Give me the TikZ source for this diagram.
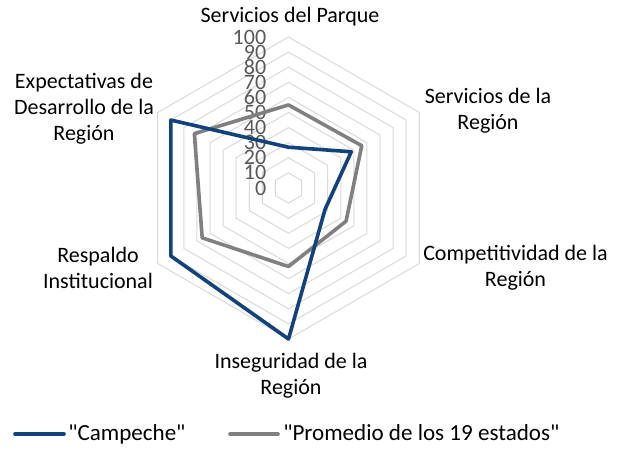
\documentclass[tikz,border=0pt]{standalone}
\usepackage{fontspec}
\setmainfont{Carlito}
\definecolor{campeche}{RGB}{17,66,125}
\definecolor{promedio}{RGB}{128,128,128}
\definecolor{gridgray}{RGB}{217,217,217}
\definecolor{ticktext}{RGB}{89,89,89}
\begin{document}
\begin{tikzpicture}[x=0.75pt,y=0.75pt]
  \tikzstyle{axislabel}=[align=center,inner sep=0pt,font=\fontsize{16.5}{19.5}\selectfont]
  \tikzstyle{legendtext}=[anchor=base west,inner sep=0pt,font=\fontsize{17.3}{20}\selectfont]
  \tikzstyle{tick}=[anchor=east,inner sep=0pt,text=ticktext,font=\fontsize{16.5}{19.5}\selectfont]
  \tikzstyle{grid}=[draw=gridgray,line width=0.75pt]
  \tikzstyle{series}=[line width=2.7pt,line join=round]
  \tikzstyle{legendline}=[line width=2.7pt,line cap=round]
  \useasboundingbox (0,0) rectangle (623,449);
  \begin{scope}[shift={(288.5,261)},x=1.1325pt,y=1.1325pt]
    % hexagon grid
    \draw[grid] (90:10) -- (30:10) -- (-30:10) -- (-90:10) -- (210:10) -- (150:10) -- cycle;
    \draw[grid] (90:20) -- (30:20) -- (-30:20) -- (-90:20) -- (210:20) -- (150:20) -- cycle;
    \draw[grid] (90:30) -- (30:30) -- (-30:30) -- (-90:30) -- (210:30) -- (150:30) -- cycle;
    \draw[grid] (90:40) -- (30:40) -- (-30:40) -- (-90:40) -- (210:40) -- (150:40) -- cycle;
    \draw[grid] (90:50) -- (30:50) -- (-30:50) -- (-90:50) -- (210:50) -- (150:50) -- cycle;
    \draw[grid] (90:60) -- (30:60) -- (-30:60) -- (-90:60) -- (210:60) -- (150:60) -- cycle;
    \draw[grid] (90:70) -- (30:70) -- (-30:70) -- (-90:70) -- (210:70) -- (150:70) -- cycle;
    \draw[grid] (90:80) -- (30:80) -- (-30:80) -- (-90:80) -- (210:80) -- (150:80) -- cycle;
    \draw[grid] (90:90) -- (30:90) -- (-30:90) -- (-90:90) -- (210:90) -- (150:90) -- cycle;
    \draw[grid] (90:100) -- (30:100) -- (-30:100) -- (-90:100) -- (210:100) -- (150:100) -- cycle;
    % scale
    \node[tick] (t0)   at (-14.6,0)   {0};
    \node[tick] (t10)  at (-14.6,10)  {10};
    \node[tick] (t20)  at (-14.6,20)  {20};
    \node[tick] (t30)  at (-14.6,30)  {30};
    \node[tick] (t40)  at (-14.6,40)  {40};
    \node[tick] (t50)  at (-14.6,50)  {50};
    \node[tick] (t60)  at (-14.6,60)  {60};
    \node[tick] (t70)  at (-14.6,70)  {70};
    \node[tick] (t80)  at (-14.6,80)  {80};
    \node[tick] (t90)  at (-14.6,90)  {90};
    \node[tick] (t100) at (-14.6,100) {100};
    % Promedio de los 19 estados
    \coordinate (P1) at (90:55);
    \coordinate (P2) at (30:56);
    \coordinate (P3) at (-30:44);
    \coordinate (P4) at (-90:52);
    \coordinate (P5) at (210:66);
    \coordinate (P6) at (150:72);
    \draw[series,draw=promedio] (P1) -- (P2) -- (P3) -- (P4) -- (P5) -- (P6) -- cycle;
    % Campeche
    \coordinate (C1) at (90:27);
    \coordinate (C2) at (30:48);
    \coordinate (C3) at (-30:28);
    \coordinate (C4) at (-90:100);
    \coordinate (C5) at (210:90);
    \coordinate (C6) at (150:90);
    \draw[series,draw=campeche] (C1) -- (C2) -- (C3) -- (C4) -- (C5) -- (C6) -- cycle;
  \end{scope}
  % category labels
  \node[axislabel] (parque)  at (290,432.5) {Servicios del Parque};
  \node[axislabel] (serreg)  at (488,338.5) {Servicios de la\\Región};
  \node[axislabel] (compet)  at (515.5,181) {Competitividad de la\\Región};
  \node[axislabel] (insegur) at (291,73.5)  {Inseguridad de la\\Región};
  \node[axislabel] (respaldo) at (98,181.5) {Respaldo\\Institucional};
  \node[axislabel] (expect)  at (84,340)    {Expectativas de\\Desarrollo de la\\Región};
  % legend
  \coordinate (lc1) at (15,15);
  \coordinate (lc2) at (64,15);
  \coordinate (lp1) at (230,15);
  \coordinate (lp2) at (278,15);
  \draw[legendline,campeche] (lc1) -- (lc2);
  \draw[legendline,promedio] (lp1) -- (lp2);
  \node[legendtext] (legc) at (68,9)    {\textquotedbl Campeche\textquotedbl};
  \node[legendtext] (legp) at (283,9)   {\textquotedbl Promedio de los 19 estados\textquotedbl};
\end{tikzpicture}
\end{document}
